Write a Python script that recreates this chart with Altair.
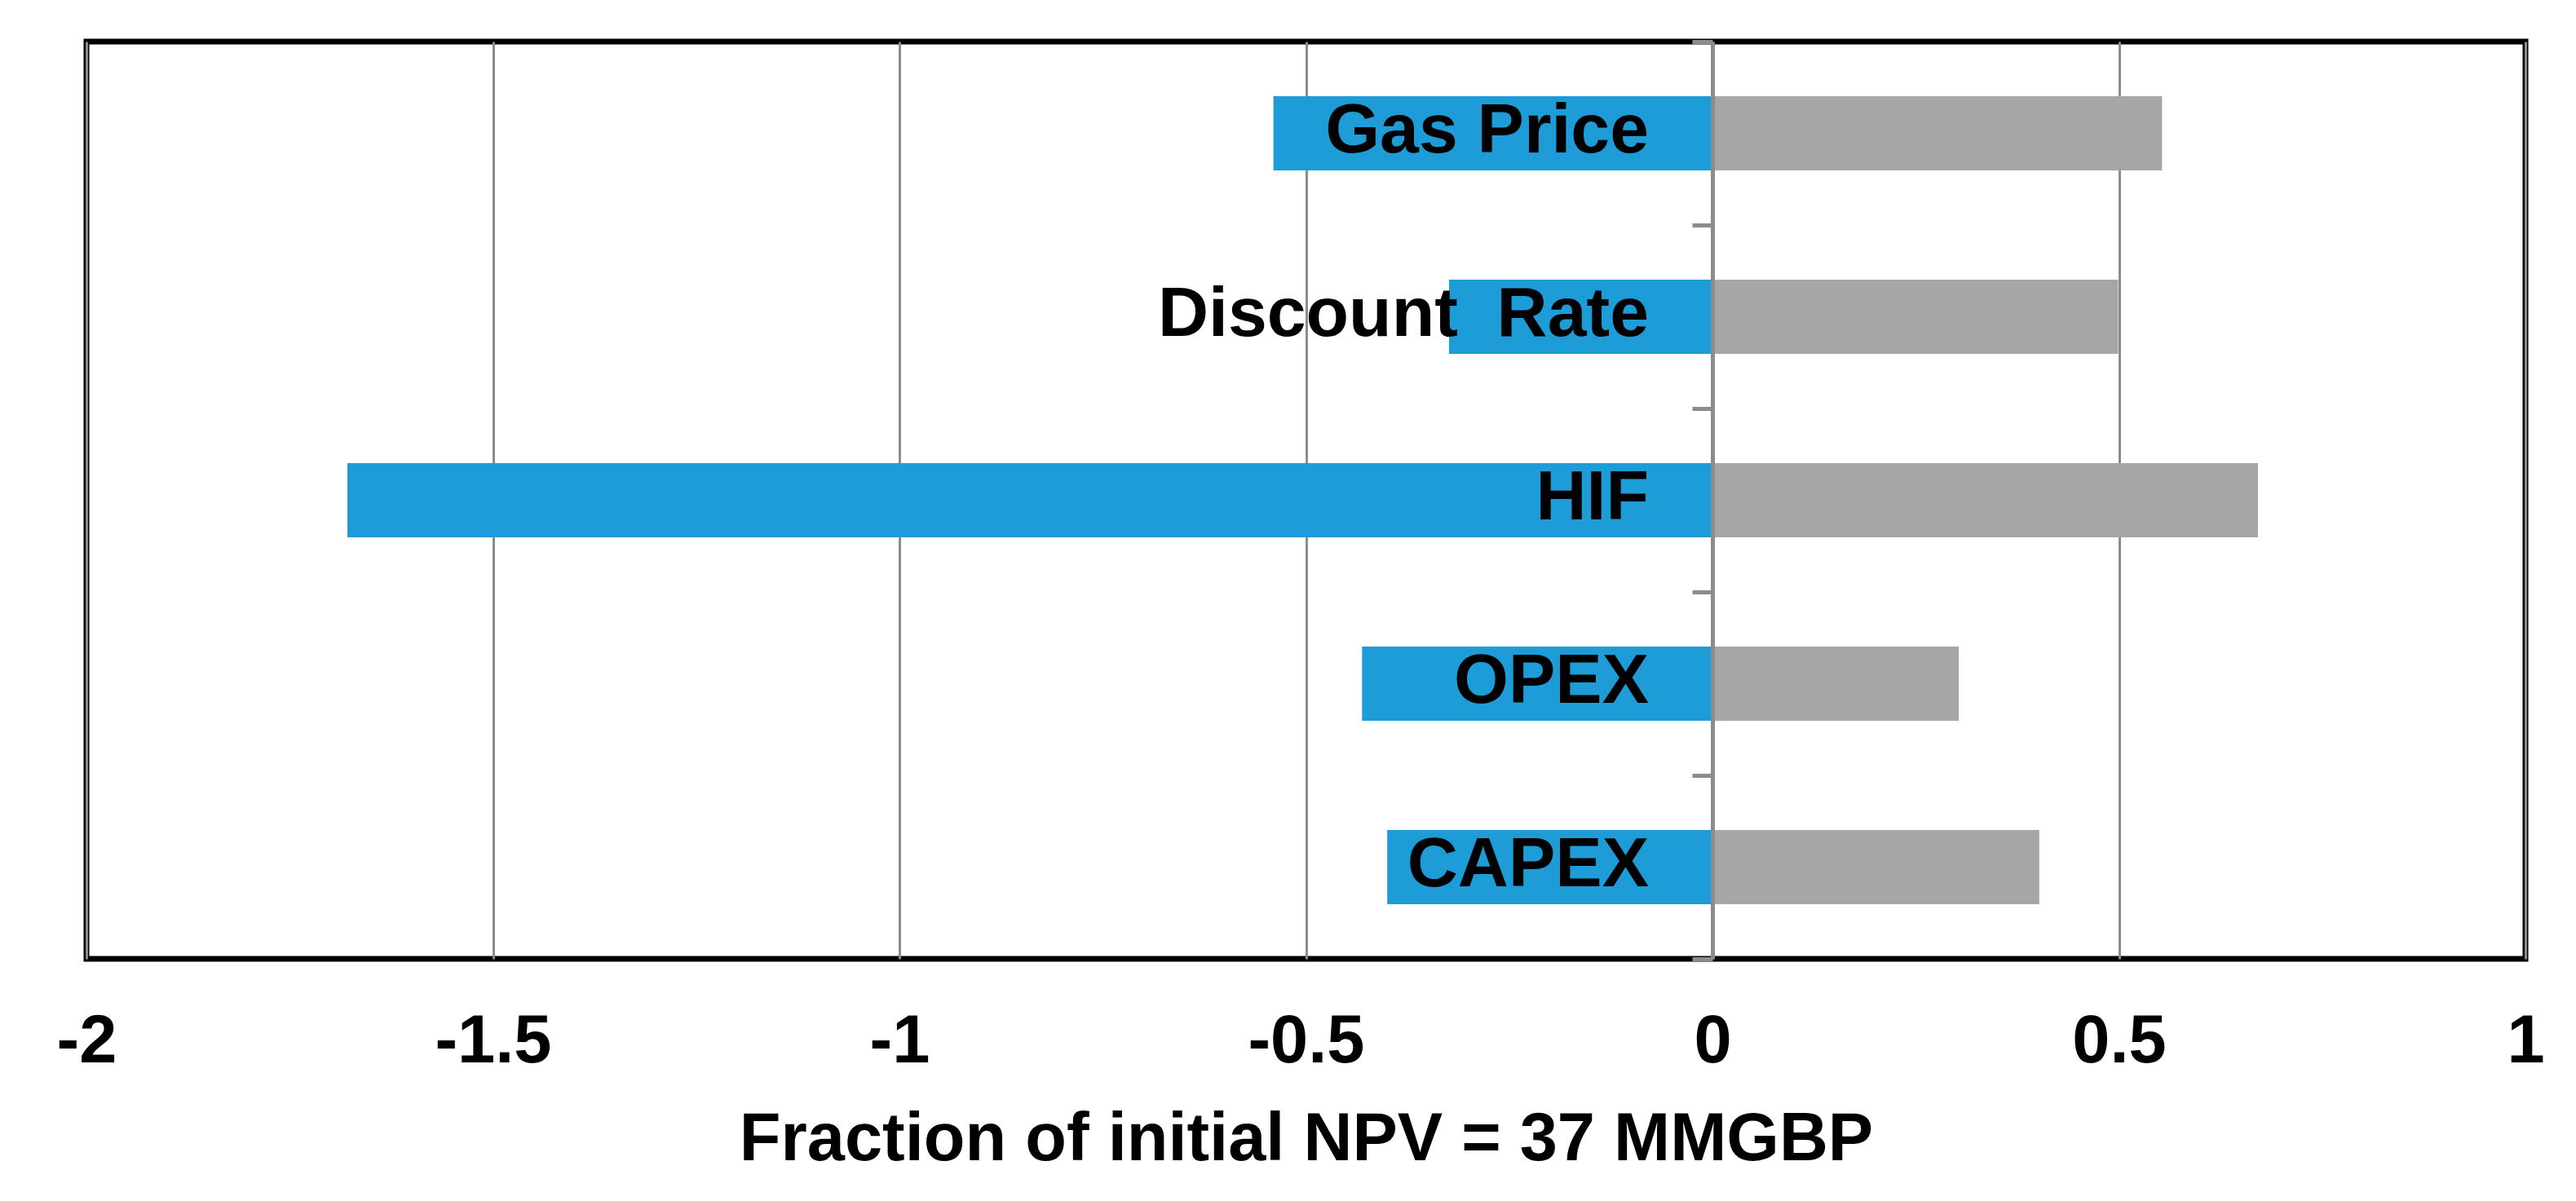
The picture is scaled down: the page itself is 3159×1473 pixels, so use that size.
import altair as alt
import pandas as pd

categories = ["Gas Price", "Discount\u00a0 Rate", "HIF", "OPEX", "CAPEX"]
low_values = [-0.540, -0.324, -1.679, -0.431, -0.400]
high_values = [0.553, 0.499, 0.671, 0.303, 0.402]
x_ticks = [-2, -1.5, -1, -0.5, 0, 0.5, 1]
x_title = "Fraction of initial NPV = 37 MMGBP"

rows = []
for c, lo, hi in zip(categories, low_values, high_values):
    rows.append({"cat": c, "series": "low", "value": lo})
    rows.append({"cat": c, "series": "high", "value": hi})
df = pd.DataFrame(rows)
labels_df = pd.DataFrame({"cat": categories})

W = 2991
H = 1125
FONT = "Liberation Sans"
GRID = "#8c8c8c"
zero_px = W * 2 / 3

xscale = alt.Scale(domain=[-2, 1], nice=False, zero=False)
yscale = alt.Scale(domain=categories, paddingInner=0, paddingOuter=0)

xaxis = alt.Axis(
    values=x_ticks,
    labelExpr="'' + datum.value",
    grid=True, gridColor=GRID, gridWidth=3,
    domain=False, ticks=False, tickSize=0,
    labelFont=FONT, labelFontSize=83, labelFontWeight="bold", labelColor="black",
    labelBaseline="alphabetic", labelPadding=126, labelFlush=False, labelOverlap=False,
    title=x_title, titleFont=FONT, titleFontSize=83, titleFontWeight="bold",
    titleColor="black", titleBaseline="alphabetic", titleY=246,
)
yaxis = alt.Axis(
    orient="left", offset=-zero_px, labels=False, title=None, grid=False,
    domain=True, domainColor=GRID, domainWidth=5,
    ticks=True, tickColor=GRID, tickWidth=5, tickSize=25, tickBand="extent",
    zindex=1,
)

bars = alt.Chart(df).mark_bar(size=91).encode(
    x=alt.X("value:Q", scale=xscale, axis=xaxis, stack=None),
    y=alt.Y("cat:N", scale=yscale, axis=yaxis, sort=categories),
    color=alt.Color("series:N", scale=alt.Scale(domain=["low", "high"], range=["#1E9CD8", "#A6A6A6"]), legend=None),
)

texts = alt.Chart(labels_df).mark_text(
    align="right", baseline="middle", dx=-78, dy=-3,
    font=FONT, fontSize=86, fontWeight="bold", color="black",
).encode(
    x=alt.datum(0, scale=xscale),
    y=alt.Y("cat:N", scale=yscale, sort=categories),
    text="cat:N",
)

chart = alt.layer(bars, texts).properties(
    width=W, height=H,
    padding={"left": 98, "top": 43, "right": 50, "bottom": 280},
    autosize=alt.AutoSizeParams(type="none"),
    background="white",
).configure_view(stroke="black", strokeWidth=7)

chart.save("out.html", embed_options={"renderer": "svg", "actions": False})
